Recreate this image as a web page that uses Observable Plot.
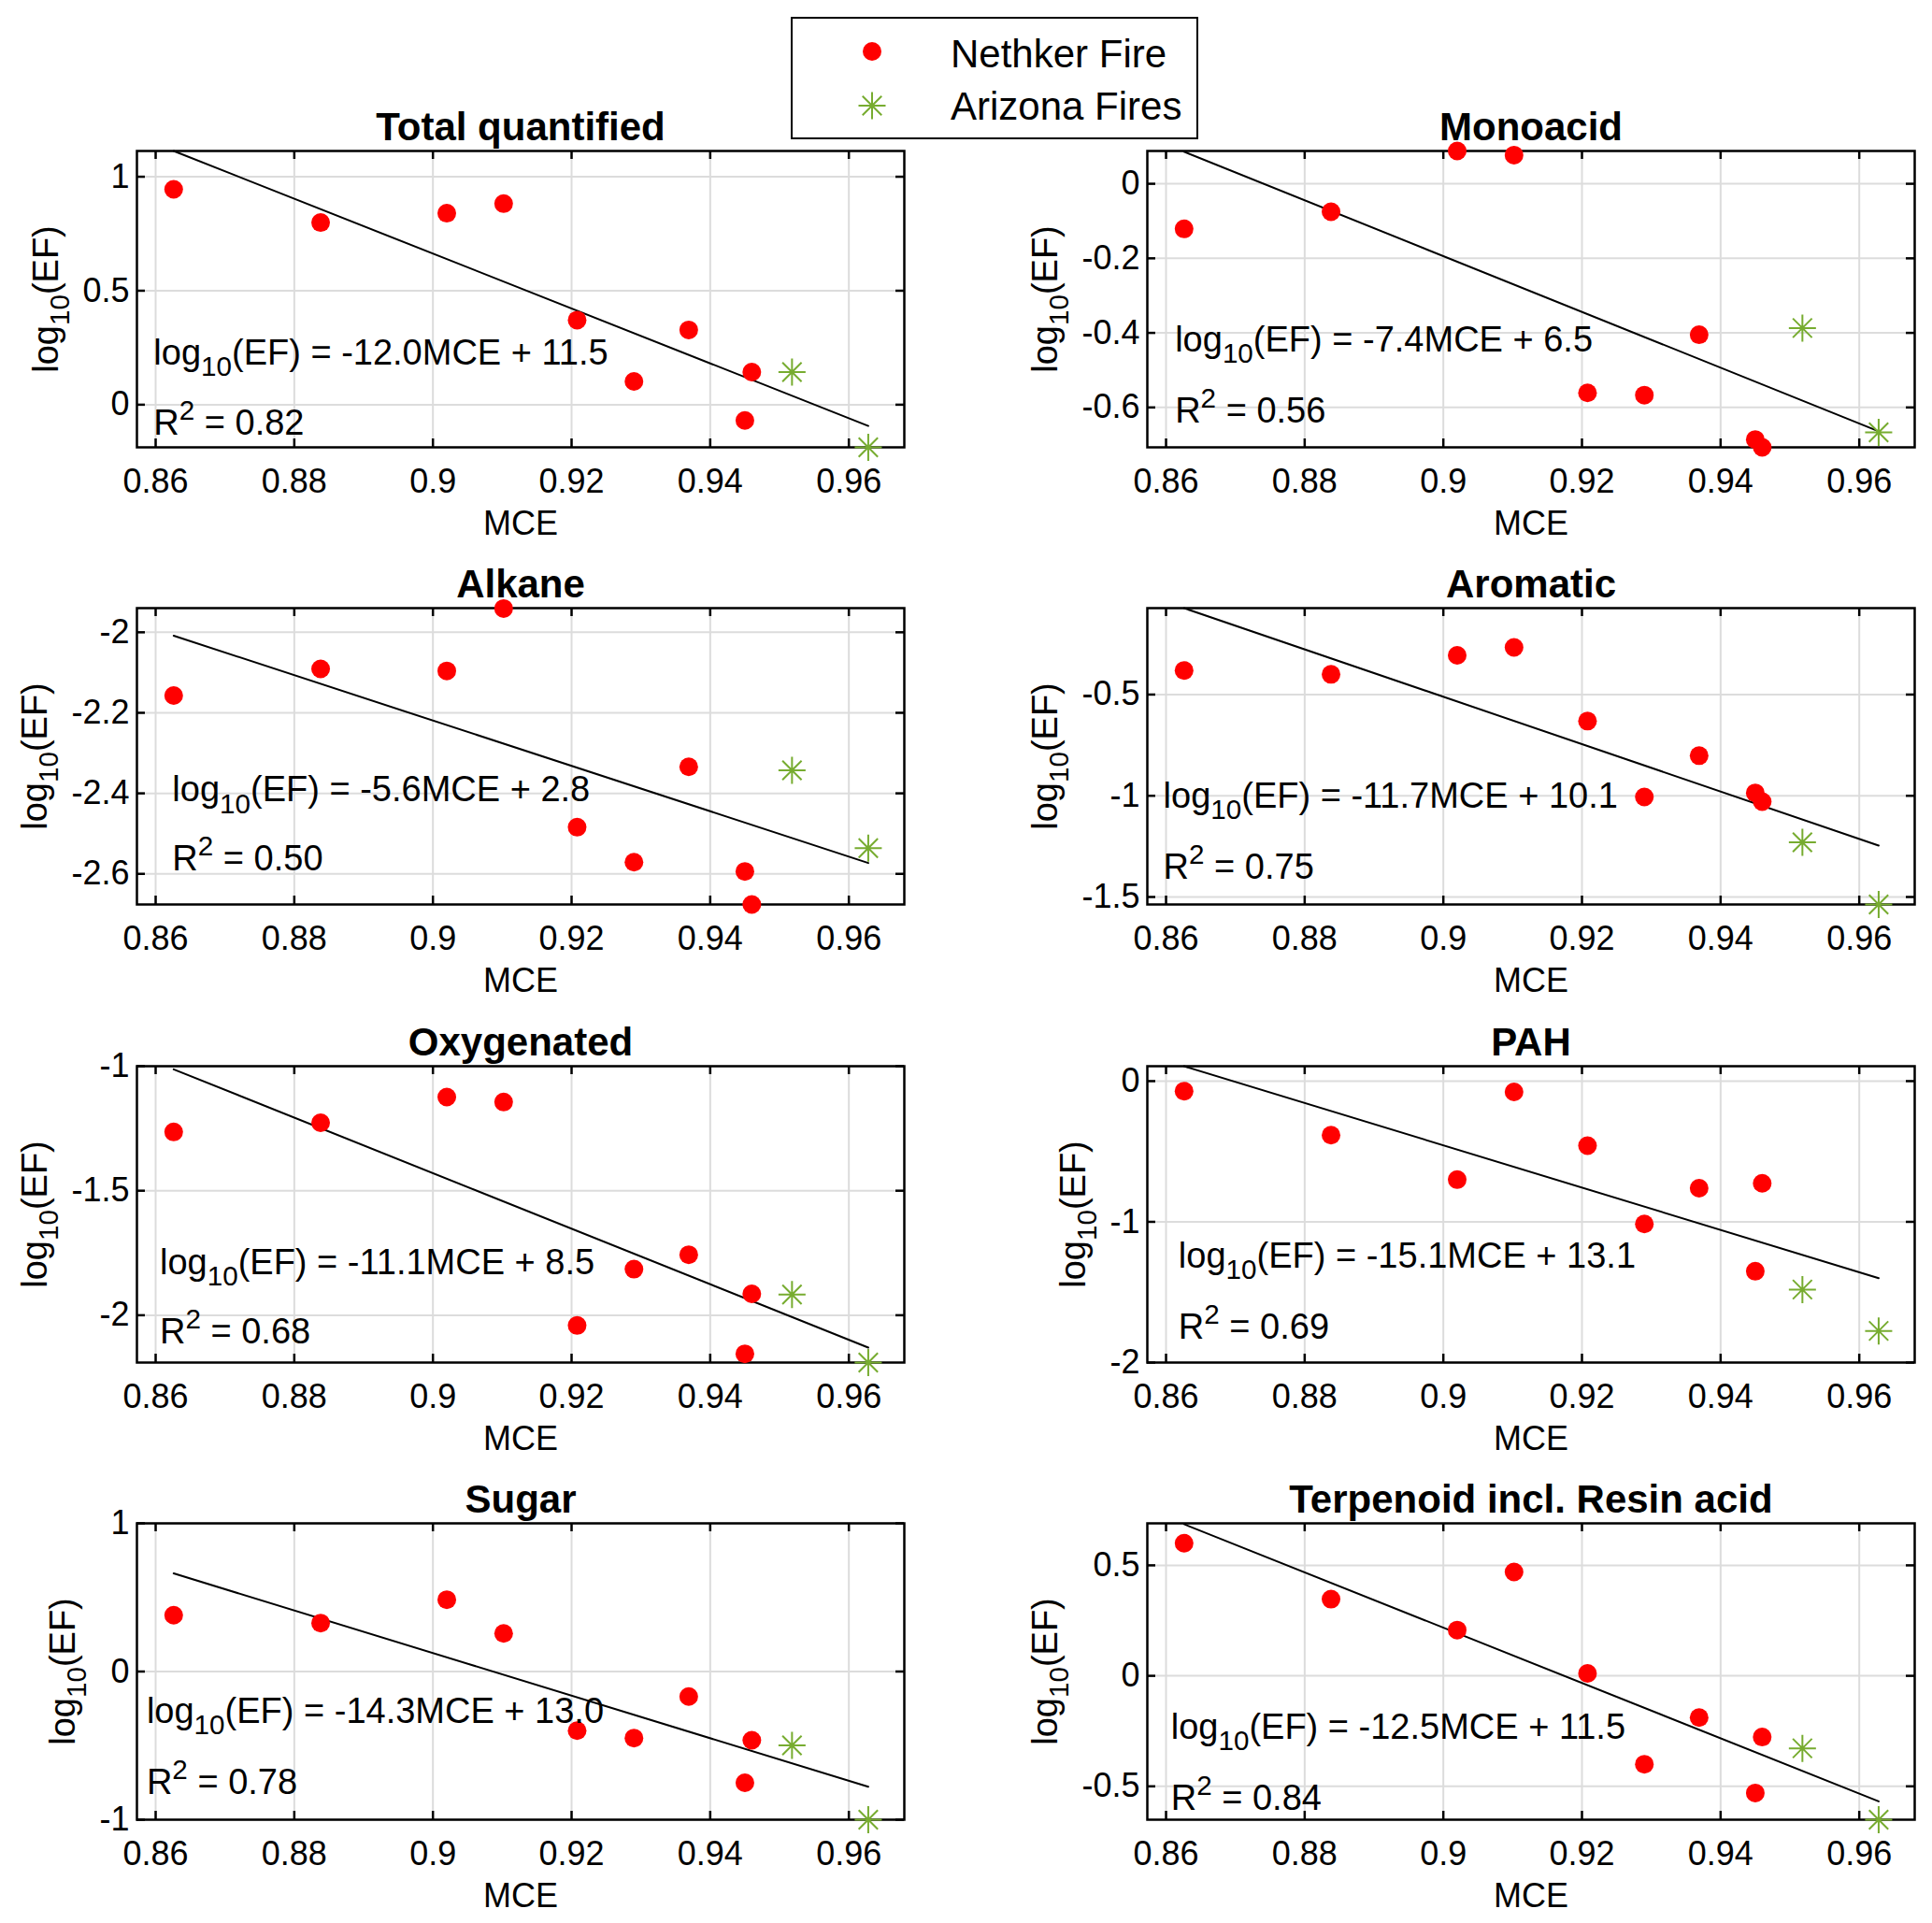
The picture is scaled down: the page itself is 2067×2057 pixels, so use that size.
<!DOCTYPE html>
<html>
<head>
<meta charset="utf-8">
<script src="https://cdn.jsdelivr.net/npm/d3@7"></script>
<script src="https://cdn.jsdelivr.net/npm/@observablehq/plot@0.6"></script>
<style>
  body { margin: 0; background: white; }
  #fig { position: relative; width: 2067px; height: 2057px; font-family: "Liberation Sans", Arial, sans-serif; }
  #fig > div { position: absolute; }
</style>
</head>
<body>
<div id="fig"></div>
<script>
// MCE of each Nethker sample, and of the two Arizona fires
const mceNethker = [0.8626, 0.8838, 0.9020, 0.9102, 0.9208, 0.9290, 0.9369, 0.9450, 0.9460]
const mceArizona = [0.9518, 0.9628]
const fitMCE = [0.8626, 0.9628]

const titles = ["Total quantified", "Monoacid", "Alkane", "Aromatic", "Oxygenated", "PAH", "Sugar", "Terpenoid incl. Resin acid"]

// log10(EF), Nethker Fire
const efTotal = [0.945, 0.799, 0.840, 0.882, 0.371, 0.102, 0.328, -0.069, 0.143]
const efMonoacid = [-0.121, -0.075, 0.088, 0.077, -0.561, -0.567, -0.405, -0.686, -0.707]
const efAlkane = [-2.157, -2.091, -2.096, -1.941, -2.484, -2.571, -2.334, -2.594, -2.676]
const efAromatic = [-0.381, -0.400, -0.306, -0.267, -0.631, -1.006, -0.802, -0.986, -1.029]
const efOxygenated = [-1.264, -1.227, -1.124, -1.144, -2.041, -1.815, -1.757, -2.155, -1.914]
const efPAH = [-0.071, -0.384, -0.700, -0.077, -0.459, -1.015, -0.761, -1.351, -0.726]
const efSugar = [0.380, 0.327, 0.485, 0.257, -0.399, -0.449, -0.169, -0.751, -0.464]
const efTerpenoid = [0.600, 0.347, 0.207, 0.470, 0.011, -0.400, -0.189, -0.530, -0.277]

// log10(EF), Arizona Fires
const azTotal = [0.143, -0.187]
const azMonoacid = [-0.387, -0.667]
const azAlkane = [-2.343, -2.536]
const azAromatic = [-1.230, -1.537]
const azOxygenated = [-1.917, -2.190]
const azPAH = [-1.481, -1.775]
const azSugar = [-0.498, -1.000]
const azTerpenoid = [-0.328, -0.651]

// fitted line at the first and last MCE
const fitTotal = [1.113, -0.093]
const fitMonoacid = [0.086, -0.664]
const fitAlkane = [-2.0085, -2.573]
const fitAromatic = [-0.073, -1.246]
const fitOxygenated = [-1.0125, -2.130]
const fitPAH = [0.106, -1.400]
const fitSugar = [0.662, -0.778]
const fitTerpenoid = [0.686, -0.568]

const slopes = ["-12.0", "-7.4", "-5.6", "-11.7", "-11.1", "-15.1", "-14.3", "-12.5"]
const intercepts = ["11.5", "6.5", "2.8", "10.1", "8.5", "13.1", "13.0", "11.5"]
const r2 = ["0.82", "0.56", "0.50", "0.75", "0.68", "0.69", "0.78", "0.84"]

// where the equation and R2 text sit (data units)
const eqX = [0.8597, 0.8613, 0.8624, 0.8596, 0.8606, 0.8618, 0.8587, 0.8607]
const eqY = [0.226, -0.420, -2.392, -1.003, -1.788, -1.247, -0.270, -0.234]
const r2Y = [-0.080, -0.611, -2.564, -1.353, -2.069, -1.748, -0.747, -0.554]

const yLimits = [[-0.187, 1.113], [-0.707, 0.088], [-2.676, -1.940], [-1.537, -0.073],
                 [-2.190, -1.0], [-2.0, 0.106], [-1, 1], [-0.651, 0.690]]
const yTicks = [[0, 0.5, 1], [-0.6, -0.4, -0.2, 0], [-2.6, -2.4, -2.2, -2], [-1.5, -1, -0.5],
                [-2, -1.5, -1], [-2, -1, 0], [-1, 0, 1], [-0.5, 0, 0.5]]
const xTicks = [0.86, 0.88, 0.9, 0.92, 0.94, 0.96]
const xDomain = [0.8573, 0.968]

const efs = [efTotal, efMonoacid, efAlkane, efAromatic, efOxygenated, efPAH, efSugar, efTerpenoid]
const azs = [azTotal, azMonoacid, azAlkane, azAromatic, azOxygenated, azPAH, azSugar, azTerpenoid]
const fits = [fitTotal, fitMonoacid, fitAlkane, fitAromatic, fitOxygenated, fitPAH, fitSugar, fitTerpenoid]

const red = "#ff0000", green = "#77ac30"
const frameW = 821, frameH = 317
const mL = 140, mR = 15, mT = 62, mB = 110
const colX = [146.4, 1227]
const rowY = [161.3, 650.3, 1139.8, 1628.8]

// matlab style '*' marker
const asterisk = {
  draw(ctx, size) {
    const r = Math.sqrt(size / Math.PI), d = r * Math.SQRT1_2
    ctx.moveTo(-r, 0); ctx.lineTo(r, 0)
    ctx.moveTo(0, -r); ctx.lineTo(0, r)
    ctx.moveTo(-d, -d); ctx.lineTo(d, d)
    ctx.moveTo(-d, d); ctx.lineTo(d, -d)
  }
}

const fmt = d => String(Math.round(d * 100) / 100)
const charW = {"-": 0.333, ".": 0.278}
const labelWidth = s => [...s].reduce((w, c) => w + (charW[c] ?? 0.556), 0) * 36

// turns "log_{10}" and "R^{2}" into tspans
function richText(svg) {
  d3.select(svg).selectAll("text").each(function () {
    const t = this.textContent
    if (!/[_^]\{/.test(t)) return
    const fs = parseFloat(getComputedStyle(this).fontSize)
    this.textContent = ""
    let shift = 0
    for (const part of t.split(/([_^]\{[^}]*\})/)) {
      if (!part) continue
      const m = part.match(/^([_^])\{(.*)\}$/)
      const ts = d3.select(this).append("tspan")
      if (m) {
        const s = m[1] === "_" ? 0.32 * fs : -0.42 * fs
        ts.text(m[2]).attr("font-size", fs * 0.78).attr("dy", s - shift)
        shift = s
      } else {
        ts.text(part).attr("dy", -shift)
        shift = 0
      }
    }
  })
}

const fig = document.getElementById("fig")

titles.forEach((title, i) => {
  const nethker = mceNethker.map((x, j) => ({x, y: efs[i][j]}))
  const arizona = mceArizona.map((x, j) => ({x, y: azs[i][j]}))
  const fit = fitMCE.map((x, j) => ({x, y: fits[i][j]}))
  const notes = [
    {x: eqX[i], y: eqY[i], t: `log_{10}(EF) = ${slopes[i]}MCE + ${intercepts[i]}`},
    {x: eqX[i], y: r2Y[i], t: `R^{2} = ${r2[i]}`}
  ]
  const yOffset = 47 + d3.max(yTicks[i], d => labelWidth(fmt(d)))

  const chart = Plot.plot({
    width: mL + frameW + mR,
    height: mT + frameH + mB,
    marginLeft: mL, marginRight: mR, marginTop: mT, marginBottom: mB,
    x: {domain: xDomain},
    y: {domain: yLimits[i]},
    style: {background: "transparent", overflow: "visible", fontFamily: "Liberation Sans, Arial, sans-serif", fontSize: "36px", color: "black"},
    marks: [
      Plot.ruleX(xTicks, {x: d => d, stroke: "#dcdcdc", strokeWidth: 2}),
      Plot.ruleY(yTicks[i], {y: d => d, stroke: "#dcdcdc", strokeWidth: 2}),
      Plot.ruleX(xTicks, {x: d => d, insetTop: frameH - 9, strokeWidth: 2.5}),
      Plot.ruleX(xTicks, {x: d => d, insetBottom: frameH - 9, strokeWidth: 2.5}),
      Plot.ruleY(yTicks[i], {y: d => d, insetRight: frameW - 9, strokeWidth: 2.5}),
      Plot.ruleY(yTicks[i], {y: d => d, insetLeft: frameW - 9, strokeWidth: 2.5}),
      Plot.axisX({ticks: xTicks, tickSize: 0, tickPadding: 23, tickFormat: fmt, label: null}),
      Plot.axisY({ticks: yTicks[i], tickSize: 0, tickPadding: 8, tickFormat: fmt, label: null}),
      Plot.frame({stroke: "black", strokeWidth: 2.5}),
      Plot.line(fit, {x: "x", y: "y", stroke: "black", strokeWidth: 2}),
      Plot.dot(nethker, {x: "x", y: "y", r: 10, fill: red}),
      Plot.dot(arizona, {x: "x", y: "y", r: 14.5, symbol: asterisk, fill: "none", stroke: green, strokeWidth: 2}),
      Plot.text(notes, {x: "x", y: "y", text: "t", textAnchor: "start", lineAnchor: "middle", fontSize: 38}),
      Plot.text([title], {text: d => d, frameAnchor: "top", textAnchor: "middle", lineAnchor: "bottom", dy: -12, fontSize: 42, fontWeight: "bold"}),
      Plot.text(["MCE"], {text: d => d, frameAnchor: "bottom", textAnchor: "middle", lineAnchor: "middle", dy: 82, fontSize: 36}),
      Plot.text(["log_{10}(EF)"], {text: d => d, frameAnchor: "left", textAnchor: "middle", lineAnchor: "middle", rotate: -90, dx: -yOffset, fontSize: 38})
    ]
  })

  const holder = document.createElement("div")
  holder.style.left = `${colX[i % 2] - mL}px`
  holder.style.top = `${rowY[Math.floor(i / 2)] - mT}px`
  holder.append(chart)
  fig.append(holder)
  richText(chart)
})

// legend box
const legend = d3.select(fig).append("div").style("left", "845px").style("top", "17px")
  .append("svg").attr("width", 440).attr("height", 134)
legend.append("rect").attr("x", 2).attr("y", 2).attr("width", 434).attr("height", 129)
  .attr("fill", "white").attr("stroke", "black").attr("stroke-width", 2)
legend.append("circle").attr("cx", 88).attr("cy", 38).attr("r", 10).attr("fill", red)
const star = d3.path()
asterisk.draw(star, 14.5 * 14.5 * Math.PI)
legend.append("path").attr("d", star.toString()).attr("transform", "translate(88,96)")
  .attr("fill", "none").attr("stroke", green).attr("stroke-width", 2)
legend.selectAll("text").data(["Nethker Fire", "Arizona Fires"]).join("text")
  .attr("x", 172).attr("y", (d, i) => [55, 111][i])
  .attr("font-family", "Liberation Sans, Arial, sans-serif").attr("font-size", 42)
  .text(d => d)
</script>
</body>
</html>
